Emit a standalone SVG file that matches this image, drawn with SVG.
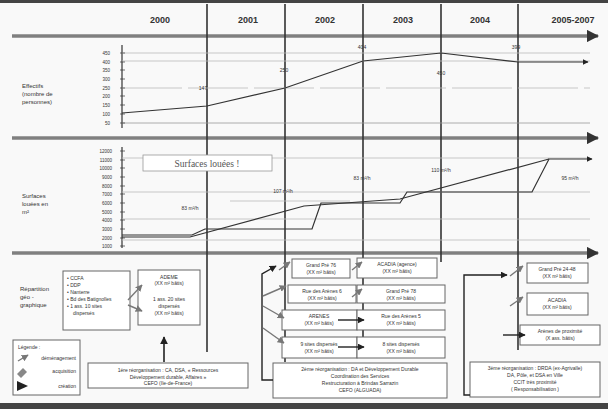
<svg xmlns="http://www.w3.org/2000/svg" width="608" height="409" viewBox="0 0 608 409">
<defs>
<style>
text{font-family:"Liberation Sans",Arial,sans-serif;fill:#333}
.yr{font-size:9px;font-weight:bold;text-anchor:middle}
.t{font-size:5px}
.tc{font-size:5px;text-anchor:middle}
.tk{font-size:4.5px;text-anchor:end}
.lab{font-size:6px}
.bar{stroke:#808080;stroke-width:3.5;fill:none}
.vl{stroke:#333;stroke-width:1.6;fill:none}
.gd{stroke:#bbb;stroke-width:0.8;fill:none}
.dl{stroke:#333;stroke-width:1.2;fill:none}
.bx{fill:#fff;stroke:#666;stroke-width:1}
.ga{stroke:#777;stroke-width:1.4;fill:none}
.ba{stroke:#222;stroke-width:1.4;fill:none}
</style>
<marker id="ah" viewBox="0 0 10 10" refX="9" refY="5" markerWidth="5" markerHeight="5" orient="auto"><path d="M0 0L10 5L0 10z" fill="#222"/></marker>
<marker id="ahg" viewBox="0 0 10 10" refX="9" refY="5" markerWidth="5" markerHeight="5" orient="auto"><path d="M0 0L10 5L0 10z" fill="#777"/></marker>
<marker id="ahb" viewBox="0 0 10 10" refX="9" refY="5" markerWidth="3.5" markerHeight="3.5" orient="auto"><path d="M0 0L10 5L0 10z" fill="#333"/></marker>
</defs>
<rect width="608" height="409" fill="#f9f9f9"/>
<rect x="0" y="0" width="608" height="3" fill="#444"/>
<rect x="0" y="403" width="608" height="6" fill="#444"/>

<g id="header">
<text class="yr" x="160" y="23">2000</text>
<text class="yr" x="248" y="23">2001</text>
<text class="yr" x="325" y="23">2002</text>
<text class="yr" x="403" y="23">2003</text>
<text class="yr" x="480" y="23">2004</text>
<text class="yr" x="573" y="23">2005-2007</text>
</g>

<g id="section-bars">
<line class="bar" x1="12" y1="36" x2="598" y2="36" marker-end="url(#ahb)"/>
<line class="bar" x1="12" y1="138" x2="598" y2="138" marker-end="url(#ahb)"/>
<line class="bar" x1="12" y1="253" x2="598" y2="253" marker-end="url(#ahb)"/>
</g>

<g id="timelines">
<line class="vl" x1="207" y1="4" x2="207" y2="352"/>
<line class="vl" x1="285" y1="4" x2="285" y2="362"/>
<line class="vl" x1="363" y1="4" x2="363" y2="358"/>
<line class="vl" x1="441" y1="4" x2="441" y2="262"/>
<line class="vl" x1="518" y1="4" x2="518" y2="350"/>
</g>

<g id="effectifs">
<text class="lab" x="22" y="88">Effectifs</text>
<text class="lab" x="22" y="96">(nombre de</text>
<text class="lab" x="22" y="104">personnes)</text>
<line class="dl" x1="122" y1="45" x2="122" y2="128"/>
<g class="gd">
<line x1="122" y1="53" x2="590" y2="53"/>
<line x1="122" y1="61" x2="590" y2="61"/>
<line x1="122" y1="88" x2="590" y2="88" stroke-dasharray="60 6"/>
<line x1="122" y1="123" x2="590" y2="123" stroke="#999"/>
</g>
<g stroke="#333" stroke-width="0.7">
<line x1="120" y1="53" x2="125" y2="53"/><line x1="120" y1="62" x2="125" y2="62"/><line x1="120" y1="70" x2="125" y2="70"/><line x1="120" y1="79" x2="125" y2="79"/><line x1="120" y1="88" x2="125" y2="88"/><line x1="120" y1="96" x2="125" y2="96"/><line x1="120" y1="105" x2="125" y2="105"/><line x1="120" y1="114" x2="125" y2="114"/><line x1="120" y1="123" x2="125" y2="123"/>
</g>
<text class="tk" x="110" y="55">450</text><text class="tk" x="110" y="64">400</text><text class="tk" x="110" y="72">350</text><text class="tk" x="110" y="81">300</text><text class="tk" x="110" y="90">250</text><text class="tk" x="110" y="98">200</text><text class="tk" x="110" y="107">150</text><text class="tk" x="110" y="116">100</text><text class="tk" x="110" y="125">50</text>
<polyline class="dl" points="122,113 207,106 285,88 363,61 441,53 518,62 588,62" marker-end="url(#ah)"/>
<text class="tc" x="203" y="90">147</text>
<text class="tc" x="284" y="72">250</text>
<text class="tc" x="362" y="49">404</text>
<text class="tc" x="441" y="75">450</text>
<text class="tc" x="516" y="49">399</text>
</g>

<g id="surfaces">
<text class="lab" x="22" y="198">Surfaces</text>
<text class="lab" x="22" y="206">louées en</text>
<text class="lab" x="22" y="214">m²</text>
<line class="dl" x1="122" y1="147" x2="122" y2="248"/>
<g class="gd">
<line x1="122" y1="158" x2="590" y2="158"/>
<line x1="122" y1="192" x2="590" y2="192"/>
<line x1="230" y1="201" x2="350" y2="201"/>
<line x1="122" y1="219" x2="590" y2="219"/>
<line x1="122" y1="240" x2="590" y2="240"/>
</g>
<g stroke="#333" stroke-width="0.7">
<line x1="120" y1="151" x2="125" y2="151"/><line x1="120" y1="160" x2="125" y2="160"/><line x1="120" y1="168" x2="125" y2="168"/><line x1="120" y1="177" x2="125" y2="177"/><line x1="120" y1="186" x2="125" y2="186"/><line x1="120" y1="194" x2="125" y2="194"/><line x1="120" y1="203" x2="125" y2="203"/><line x1="120" y1="212" x2="125" y2="212"/><line x1="120" y1="220" x2="125" y2="220"/><line x1="120" y1="229" x2="125" y2="229"/><line x1="120" y1="238" x2="125" y2="238"/><line x1="120" y1="246" x2="125" y2="246"/>
</g>
<text class="tk" x="112" y="153">12000</text><text class="tk" x="112" y="162">11000</text><text class="tk" x="112" y="170">10000</text><text class="tk" x="112" y="179">9000</text><text class="tk" x="112" y="188">8000</text><text class="tk" x="112" y="196">7000</text><text class="tk" x="112" y="205">6000</text><text class="tk" x="112" y="214">5000</text><text class="tk" x="112" y="222">4000</text><text class="tk" x="112" y="231">3000</text><text class="tk" x="112" y="240">2000</text><text class="tk" x="112" y="248">1000</text>
<rect x="143" y="155" width="129" height="16" fill="#fff" stroke="#999" stroke-width="0.8"/>
<text x="207" y="166.5" font-size="9.5" text-anchor="middle" style="font-family:'Liberation Serif',serif;fill:#555">Surfaces louées !</text>
<polyline class="dl" points="122,235 192,235 205,229 312,229 321,203 400,203 407,192 532,192 549,159 592,159" marker-end="url(#ah)"/>
<polyline class="dl" stroke-width="1" points="122,237 190,237 304,206 400,199 549,159"/>
<text class="tc" x="190" y="210">83 m²/h</text>
<text class="tc" x="283" y="193">107 m²/h</text>
<text class="tc" x="362" y="180">83 m²/h</text>
<text class="tc" x="441" y="172">110 m²/h</text>
<text class="tc" x="570" y="180">95 m²/h</text>
</g>

<g id="repartition-label">
<text class="lab" x="20" y="291">Répartition</text>
<text class="lab" x="20" y="299">géo -</text>
<text class="lab" x="20" y="307">graphique</text>
</g>

<g id="box-2000-a">
<rect class="bx" x="63" y="271" width="67" height="59"/>
<text class="t" x="67" y="280">• CCFA</text>
<text class="t" x="67" y="287">• DDP</text>
<text class="t" x="67" y="294">• Nanterre</text>
<text class="t" x="67" y="301">• Bd des Batignolles</text>
<text class="t" x="67" y="308">• 1 ass. 10 sites</text>
<text class="t" x="73" y="315">dispersés</text>
</g>
<g id="box-2000-b">
<rect class="bx" x="138" y="270" width="62" height="55"/>
<text class="tc" x="169" y="279">ADEME</text>
<text class="tc" x="169" y="285">(XX m² bâtis)</text>
<text class="tc" x="169" y="301">1 ass. 20 sites</text>
<text class="tc" x="169" y="308">dispersés</text>
<text class="tc" x="169" y="315">(XX m² bâtis)</text>
</g>
<g id="box-2000-reorg">
<rect class="bx" x="88" y="363" width="160" height="25"/>
<text class="tc" x="168" y="372">1ère réorganisation : CA, DSA, « Ressources</text>
<text class="tc" x="168" y="378.5">Développement durable, Affaires »</text>
<text class="tc" x="168" y="385">CEFO (Ile-de-France)</text>
</g>

<g id="legend">
<rect class="bx" x="13" y="340" width="67" height="55"/>
<text class="t" x="18" y="349">Légende :</text>
<line class="ga" x1="18" y1="361" x2="28" y2="355" marker-end="url(#ahg)"/>
<text class="t" x="76" y="360" text-anchor="end">déménagement</text>
<path d="M17 374l6-6l4 4l-6 6z" fill="#888"/>
<text class="t" x="76" y="373" text-anchor="end">acquisition</text>
<path d="M17 381l11 5l-11 5z" fill="#222"/>
<text class="t" x="76" y="388" text-anchor="end">création</text>
</g>

<g id="box-2002-a"><rect class="bx" x="292" y="259" width="58" height="19"/><text class="tc" x="321" y="267">Grand Pré 76</text><text class="tc" x="321" y="274">(XX m² bâtis)</text></g>
<g id="box-2002-b"><rect class="bx" x="288" y="285" width="68" height="18"/><text class="tc" x="322" y="293">Rue des Arènes 6</text><text class="tc" x="322" y="300">(XX m² bâtis)</text></g>
<g id="box-2002-c"><rect class="bx" x="282" y="310" width="75" height="20"/><text class="tc" x="319" y="318">ARENES</text><text class="tc" x="319" y="325">(XX m² bâtis)</text></g>
<g id="box-2002-d"><rect class="bx" x="282" y="337" width="75" height="21"/><text class="tc" x="319" y="346">9 sites dispersés</text><text class="tc" x="319" y="353">(XX m² bâtis)</text></g>

<g id="box-2003-e"><rect class="bx" x="357" y="258" width="80" height="20"/><text class="tc" x="397" y="266">ACADIA (agence)</text><text class="tc" x="397" y="273">(XX m² bâtis)</text></g>
<g id="box-2003-f"><rect class="bx" x="357" y="285" width="88" height="18"/><text class="tc" x="401" y="293">Grand Pré 78</text><text class="tc" x="401" y="300">(XX m² bâtis)</text></g>
<g id="box-2003-g"><rect class="bx" x="357" y="310" width="88" height="20"/><text class="tc" x="401" y="318">Rue des Arènes 5</text><text class="tc" x="401" y="325">(XX m² bâtis)</text></g>
<g id="box-2003-h"><rect class="bx" x="357" y="337" width="88" height="21"/><text class="tc" x="401" y="346">8 sites dispersés</text><text class="tc" x="401" y="353">(XX m² bâtis)</text></g>

<g id="box-2002-reorg">
<rect class="bx" x="273" y="363" width="174" height="35"/>
<text class="tc" x="360" y="371">2ème réorganisation : DA et Développement Durable</text>
<text class="tc" x="360" y="378">Coordination des Services</text>
<text class="tc" x="360" y="385">Restructuration à Brindas Sarrazin</text>
<text class="tc" x="360" y="392">CEFO (ALGUADA)</text>
</g>

<g id="box-2005-i"><rect class="bx" x="527" y="263" width="61" height="20"/><text class="tc" x="557" y="271">Grand Pré 24-48</text><text class="tc" x="557" y="278">(XX m² bâtis)</text></g>
<g id="box-2005-j"><rect class="bx" x="527" y="293" width="61" height="22"/><text class="tc" x="557" y="302">ACADIA</text><text class="tc" x="557" y="309">(XX m² bâtis)</text></g>
<g id="box-2005-k"><rect class="bx" x="520" y="325" width="80" height="20"/><text class="tc" x="560" y="333">Arènes de proximité</text><text class="tc" x="560" y="340">(X ass. bâtis)</text></g>
<g id="box-2005-reorg">
<rect class="bx" x="470" y="362" width="130" height="35"/>
<text class="tc" x="535" y="370">3ème réorganisation : DRDA (ex-Agrivalle)</text>
<text class="tc" x="535" y="377">DA, Pôle, et DSA en Ville</text>
<text class="tc" x="535" y="384">CCIT très proximité</text>
<text class="tc" x="535" y="391">( Responsabilisation )</text>
</g>

<g id="connectors">
<line class="ga" x1="128" y1="300" x2="142" y2="285" marker-end="url(#ahg)"/>
<line class="ga" x1="128" y1="305" x2="142" y2="311" marker-end="url(#ahg)"/>
<line x1="164" y1="362" x2="164" y2="337" stroke="#222" stroke-width="1.6" marker-end="url(#ah)"/>
<polyline class="ba" points="273,380 262,380 262,274 276,266" marker-end="url(#ah)"/>
<line class="ga" x1="263" y1="296" x2="286" y2="286" marker-end="url(#ahg)"/>
<line class="ga" x1="263" y1="306" x2="284" y2="318" marker-end="url(#ahg)"/>
<line class="ga" x1="263" y1="328" x2="284" y2="343" marker-end="url(#ahg)"/>
<line class="ga" x1="279" y1="270" x2="290" y2="262" marker-end="url(#ahg)"/>
<line class="ga" x1="352" y1="270" x2="362" y2="262" marker-end="url(#ahg)"/>
<line class="ga" x1="352" y1="297" x2="362" y2="289" marker-end="url(#ahg)"/>
<line class="ba" x1="338" y1="320" x2="364" y2="320" stroke-width="1.8" marker-end="url(#ah)"/>
<line class="ba" x1="338" y1="347" x2="364" y2="347" stroke-width="1.8" marker-end="url(#ah)"/>
<polyline class="ba" points="470,395 464,395 464,275 507,275" marker-end="url(#ah)"/>
<line class="ga" x1="510" y1="276" x2="523" y2="266" marker-end="url(#ahg)"/>
<line class="ga" x1="510" y1="306" x2="523" y2="297" marker-end="url(#ahg)"/>
<line class="ba" x1="503" y1="335" x2="525" y2="335" stroke-width="1.8" marker-end="url(#ah)"/>
</g>
</svg>
